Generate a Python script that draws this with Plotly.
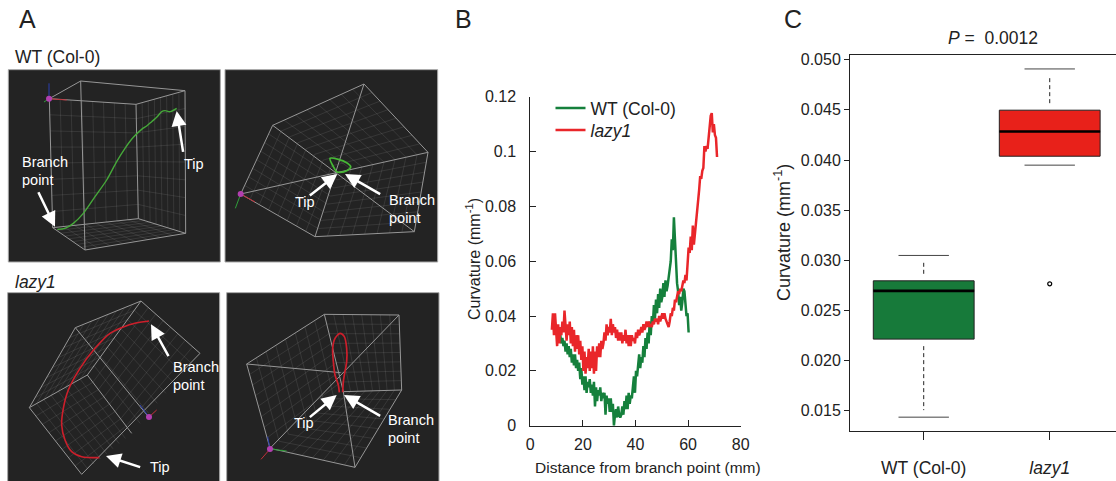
import plotly.graph_objects as go

FONT = "Liberation Sans, Arial, sans-serif"
INK = "#222222"
W, H = 1116, 481

# ---------- Panel B: curvature profiles ----------
wt_distance = [10.6,11.0,11.4,11.8,12.2,12.6,13.0,13.4,13.8,14.2,14.6,15.0,15.4,15.8,16.2,16.6,17.0,17.4,17.8,18.2,
 18.6,19.0,19.4,19.8,20.2,20.6,21.0,21.4,21.8,22.2,22.6,23.0,23.4,23.8,24.2,24.6,25.0,25.4,25.8,26.2,
 26.6,27.0,27.4,27.8,28.2,28.6,29.0,29.4,29.8,30.2,30.6,31.0,31.4,31.8,32.2,32.6,33.0,33.4,33.8,34.2,
 34.6,35.0,35.4,35.8,36.2,36.6,37.0,37.4,37.8,38.2,38.6,39.0,39.4,39.8,40.2,40.6,41.0,41.4,41.8,42.2,
 42.6,43.0,43.4,43.8,44.2,44.6,45.0,45.4,45.8,46.2,46.6,47.0,47.4,47.8,48.2,48.6,49.0,49.4,49.8,50.2,
 50.6,51.0,51.4,51.8,52.2,52.6,53.0,53.4,53.8,54.2,54.6,55.0,55.4,55.8,56.2,56.6,57.0,57.4,57.8,58.2,
 58.6,59.0,59.4,59.8,60.2]
wt_curvature = [.032,.031,.033,.030,.032,.029,.031,.027,.030,.026,.029,.025,.028,.023,.026,.022,.026,.021,.024,.020,
 .023,.017,.021,.015,.018,.013,.018,.012,.016,.014,.017,.012,.015,.011,.016,.007,.014,.009,.013,.011,
 .014,.009,.012,.010,.012,.004,.011,.008,.010,.005,.010,.005,.008,.000,.004,.006,.003,.007,.004,.003,
 .004,.007,.004,.009,.006,.011,.006,.012,.008,.011,.010,.014,.018,.012,.020,.018,.022,.026,.021,.025,
 .023,.029,.025,.032,.028,.034,.030,.038,.033,.040,.037,.044,.039,.046,.041,.048,.043,.050,.045,.047,
 .052,.047,.053,.049,.051,.054,.058,.060,.068,.064,.076,.066,.056,.052,.049,.044,.047,.042,.045,.050,
 .049,.043,.040,.041,.034]
lazy_distance = [8.2,8.6,9.0,9.4,9.8,10.2,10.6,11.0,11.4,11.8,12.2,12.6,13.0,13.4,13.8,14.2,14.6,15.0,15.4,15.8,
 16.2,16.6,17.0,17.4,17.8,18.2,18.6,19.0,19.4,19.8,20.2,20.6,21.0,21.4,21.8,22.2,22.6,23.0,23.4,23.8,
 24.2,24.6,25.0,25.4,25.8,26.2,26.6,27.0,27.4,27.8,28.2,28.6,29.0,29.4,29.8,30.2,30.6,31.0,31.4,31.8,
 32.2,32.6,33.0,33.4,33.8,34.2,34.6,35.0,35.4,35.8,36.2,36.6,37.0,37.4,37.8,38.2,38.6,39.0,39.4,39.8,
 40.2,40.6,41.0,41.4,41.8,42.2,42.6,43.0,43.4,43.8,44.2,44.6,45.0,45.4,45.8,46.2,46.6,47.0,47.4,47.8,
 48.2,48.6,49.0,49.4,49.8,50.2,50.6,51.0,51.4,51.8,52.2,52.6,53.0,53.4,53.8,54.2,54.6,55.0,55.4,55.8,
 56.2,56.6,57.0,57.4,57.8,58.2,58.6,59.0,59.4,59.8,60.2,60.6,61.0,61.4,61.8,62.2,62.6,63.0,63.4,63.8,
 64.2,64.6,65.0,65.4,65.8,66.2,66.6,67.0,67.4,67.8,68.2,68.6,69.0,69.4,69.8,70.2,70.6,71.0]
lazy_curvature = [.035,.041,.033,.041,.035,.029,.037,.030,.036,.033,.038,.034,.042,.035,.031,.037,.033,.038,.030,.036,
 .029,.035,.027,.033,.028,.033,.026,.031,.024,.029,.020,.027,.019,.025,.021,.028,.020,.027,.021,.029,
 .019,.027,.020,.029,.025,.030,.025,.031,.028,.030,.034,.031,.037,.033,.036,.034,.039,.033,.037,.034,
 .036,.032,.035,.031,.034,.031,.034,.030,.033,.031,.035,.030,.033,.029,.033,.029,.033,.031,.032,.030,
 .034,.032,.035,.033,.034,.036,.034,.037,.035,.036,.038,.036,.038,.036,.037,.036,.038,.037,.039,.038,
 .039,.037,.040,.038,.040,.041,.039,.041,.039,.038,.037,.036,.038,.041,.040,.043,.042,.046,.045,.047,
 .049,.048,.050,.049,.051,.053,.052,.055,.053,.058,.065,.063,.069,.064,.073,.066,.072,.074,.078,.081,
 .086,.091,.090,.093,.094,.102,.100,.102,.101,.105,.110,.113,.114,.107,.110,.106,.105,.098]
b_y_ticks = [0, 0.02, 0.04, 0.06, 0.08, 0.1, 0.12]
b_y_labels = ["0", "0.02", "0.04", "0.06", "0.08", "0.1", "0.12"]
b_x_ticks = [0, 20, 40, 60, 80]

# ---------- Panel C: box plot ----------
box_labels = ["WT (Col-0)", "<i>lazy1</i>"]
box_positions = [1, 2]
box_lower = [0.01437, 0.03949]
box_q1 = [0.02215, 0.04038]
box_median = [0.02696, 0.04284]
box_q3 = [0.02796, 0.04497]
box_upper = [0.03049, 0.04908]
box_colors = ["#177a3a", "#e8211a"]
outlier_position = [2]
outlier_value = [0.02766]
c_y_ticks = [0.015, 0.020, 0.025, 0.030, 0.035, 0.040, 0.045, 0.050]

# ---------- Panel A: traced 3-D views, in reference crop coordinates (3x) ----------
p1_rect = (25, 209, 661, 786)
p2_rect = (675, 209, 1313, 786)
p3_rect = (23, 83, 659, 660)
p4_rect = (680, 83, 1317, 660)

p1_wire = [[(148,296),(242,243),(555,272),(408,313),(148,296),(158,683),(255,750),(557,700),(555,272)],
           [(242,243),(255,750)], [(408,313),(415,656),(557,700)], [(158,683),(415,656)]]
p1_faces = [[(148,296),(408,313),(415,656),(158,683)], [(408,313),(555,272),(557,700),(415,656)],
            [(158,683),(415,656),(557,700),(255,750)]]
p1_x = [172,195,220,250,285,320,350,375,400,425,440,455,470,485,495,510,530]
p1_y = [688,685,670,640,590,540,485,445,412,388,378,365,352,335,332,335,325]

p2_wire = [[(818,376),(1092,252),(1284,457),(1243,695),(945,710),(722,582),(818,376)],
           [(818,376),(1243,695)], [(1092,252),(945,710)], [(722,582),(1284,457)]]
p2_faces = [[(818,376),(1092,252),(1284,457),(1020,515)], [(818,376),(722,582),(945,710),(1020,515)],
            [(1284,457),(1243,695),(945,710),(1020,515)]]
p2_x = [990,1015,1040,1052,1040,1020,1010,1000,990]
p2_y = [475,478,488,500,512,517,515,500,475]

p3_wire = [[(88,428),(226,188),(423,108),(600,265),(245,628),(88,428)],
           [(226,188),(445,455)], [(88,428),(262,330),(395,505)], [(423,108),(262,330)]]
p3_faces = [[(226,188),(423,108),(262,330),(88,428)], [(423,108),(600,265),(395,505),(262,330)],
            [(88,428),(262,330),(395,505),(245,628)]]
p3_x = [447,420,380,330,285,240,205,190,185,195,215,245,298]
p3_y = [168,172,182,205,250,310,375,430,480,525,560,575,578]

p4_wire = [[(740,297),(973,148),(1197,150),(1205,375),(1065,607),(810,550),(740,297)],
           [(740,297),(1022,323)], [(973,148),(1030,380),(1065,607)], [(1197,150),(810,550)], [(1030,380),(1205,375)]]
p4_faces = [[(973,148),(1197,150),(1205,375),(1030,380)], [(740,297),(973,148),(1030,380),(810,550)],
            [(810,550),(1030,380),(1205,375),(1065,607)]]
p4_x = [1018,1015,1005,1000,998,1005,1020,1033,1040,1040,1033,1030,1028]
p4_y = [382,360,330,290,250,220,205,215,250,290,330,350,382]

# triad at each view's origin: dot, then (end point, colour)
p1_triad = ((147,296), [((147,250),"#2b3fb0"), ((200,300),"#c0303a"), ((132,306),"#2f9e3a")])
p2_triad = ((722,582), [((706,625),"#2f9e3a"), ((765,606),"#c0303a")])
p3_triad = ((447,456), [((470,435),"#c0303a"), ((420,420),"#2b3fb0")])
p4_triad = ((810,552), [((860,558),"#2f9e3a"), ((783,583),"#c0303a"), ((803,515),"#2b3fb0")])

# (tail, head) of white arrows
p1_arrows = [((113,572),(165,680)), ((550,460),(530,333))]
p2_arrows = [((925,590),(1012,522)), ((1145,585),(1035,522))]
p3_arrows = [((508,278),(453,178)), ((425,608),(318,573))]
p4_arrows = [((925,460),(1010,390)), ((1145,455),(1032,390))]
# (left x, centre y, text)
p1_text = [(60,487,"Branch"), (60,541,"point"), (545,492,"Tip")]
p2_text = [(880,605,"Tip"), (1162,600,"Branch"), (1162,655,"point")]
p3_text = [(513,305,"Branch"), (513,360,"point"), (445,607,"Tip")]
p4_text = [(877,475,"Tip"), (1157,465,"Branch"), (1157,520,"point")]


def top(p):
    return (p[0] / 3, p[1] / 3)


def low(p):
    return (p[0] / 3, 265 + p[1] / 3)


def grid_lines(face, n, m):
    a, b, c, d = face
    xs, ys = [], []
    for i in range(1, n):
        t = i / n
        p = (a[0] + (b[0] - a[0]) * t, a[1] + (b[1] - a[1]) * t)
        q = (d[0] + (c[0] - d[0]) * t, d[1] + (c[1] - d[1]) * t)
        xs += [p[0], q[0], None]
        ys += [p[1], q[1], None]
    for j in range(1, m):
        t = j / m
        p = (a[0] + (d[0] - a[0]) * t, a[1] + (d[1] - a[1]) * t)
        q = (b[0] + (c[0] - b[0]) * t, b[1] + (c[1] - b[1]) * t)
        xs += [p[0], q[0], None]
        ys += [p[1], q[1], None]
    return xs, ys


fig = go.Figure()
shapes, annotations = [], []
A = dict(xaxis="x3", yaxis="y3", hoverinfo="skip", showlegend=False)


def add_view(rect, wire, faces, cx, cy, color, triad, arrows, texts, conv, lw):
    (x0, y0), (x1, y1) = conv(rect[:2]), conv(rect[2:])
    shapes.append(dict(type="rect", xref="x3", yref="y3", x0=x0, y0=y0, x1=x1, y1=y1, layer="below",
                       fillcolor="#232323", line=dict(color="#a8a8a8", width=1)))
    gx, gy = [], []
    for f in faces:
        px, py = grid_lines([conv(p) for p in f], 8, 8)
        gx += px
        gy += py
    fig.add_trace(go.Scatter(x=gx, y=gy, mode="lines", line=dict(color="rgba(255,255,255,0.13)", width=0.7), **A))
    wx, wy = [], []
    for seg in wire:
        for p in seg:
            q = conv(p)
            wx.append(q[0])
            wy.append(q[1])
        wx.append(None)
        wy.append(None)
    fig.add_trace(go.Scatter(x=wx, y=wy, mode="lines", line=dict(color="#969696", width=1), **A))
    pts = [conv(p) for p in zip(cx, cy)]
    fig.add_trace(go.Scatter(x=[p[0] for p in pts], y=[p[1] for p in pts], mode="lines",
                             line=dict(color=color, width=lw, shape="spline", smoothing=0.8), **A))
    o = conv(triad[0])
    for end, col in triad[1]:
        e = conv(end)
        fig.add_trace(go.Scatter(x=[o[0], e[0]], y=[o[1], e[1]], mode="lines", line=dict(color=col, width=1), **A))
    fig.add_trace(go.Scatter(x=[o[0]], y=[o[1]], mode="markers", marker=dict(color="#b23fb0", size=6), **A))
    for tail, head in arrows:
        t, h = conv(tail), conv(head)
        annotations.append(dict(x=h[0], y=h[1], ax=t[0], ay=t[1], xref="x3", yref="y3", axref="x3", ayref="y3",
                                text="", showarrow=True, arrowhead=2, arrowsize=1.2, arrowwidth=2.5,
                                arrowcolor="white"))
    for lx, ly, s in texts:
        q = conv((lx, ly))
        annotations.append(dict(x=q[0], y=q[1], xref="x3", yref="y3", text=s, showarrow=False, xanchor="left",
                                yanchor="middle", font=dict(family=FONT, size=14.5, color="white")))


add_view(p1_rect, p1_wire, p1_faces, p1_x, p1_y, "#46a83a", p1_triad, p1_arrows, p1_text, top, 1.4)
add_view(p2_rect, p2_wire, p2_faces, p2_x, p2_y, "#46b835", p2_triad, p2_arrows, p2_text, top, 1.8)
add_view(p3_rect, p3_wire, p3_faces, p3_x, p3_y, "#cc1f2b", p3_triad, p3_arrows, p3_text, low, 1.6)
add_view(p4_rect, p4_wire, p4_faces, p4_x, p4_y, "#cc1f2b", p4_triad, p4_arrows, p4_text, low, 1.7)

# Panel B traces
fig.add_trace(go.Scatter(x=wt_distance, y=wt_curvature, mode="lines", name="WT (Col-0)", legend="legend",
                         line=dict(color="#15803c", width=2.5), xaxis="x", yaxis="y"))
fig.add_trace(go.Scatter(x=lazy_distance, y=lazy_curvature, mode="lines", name="<i>lazy1</i>", legend="legend2",
                         line=dict(color="#e9262a", width=2.5), xaxis="x", yaxis="y"))

# Panel C traces
WHISKER_GAP = 0.0007
for i in range(2):
    x = box_positions[i]
    fig.add_trace(go.Box(x=[x], q1=[box_q1[i]], median=[box_median[i]], q3=[box_q3[i]],
                         lowerfence=[box_q1[i]], upperfence=[box_q3[i]], width=0.8, whiskerwidth=0,
                         fillcolor=box_colors[i], line=dict(color="#222222", width=1),
                         boxpoints=False, xaxis="x2", yaxis="y2", showlegend=False, hoverinfo="skip"))
    fig.add_trace(go.Scatter(x=[x - 0.4, x + 0.4], y=[box_median[i]] * 2, mode="lines",
                             line=dict(color="black", width=2.6), xaxis="x2", yaxis="y2", showlegend=False))
    for a, b, sign in ((box_q3[i], box_upper[i], 1), (box_q1[i], box_lower[i], -1)):
        if abs(b - a) > 2 * WHISKER_GAP:
            fig.add_trace(go.Scatter(x=[x, x], y=[a + sign * WHISKER_GAP, b - sign * WHISKER_GAP], mode="lines",
                                     line=dict(color="#222222", width=1, dash="4px,3px"),
                                     xaxis="x2", yaxis="y2", showlegend=False))
        fig.add_trace(go.Scatter(x=[x - 0.2, x + 0.2], y=[b, b], mode="lines", line=dict(color="#444444", width=1),
                                 xaxis="x2", yaxis="y2", showlegend=False))
fig.add_trace(go.Scatter(x=outlier_position, y=outlier_value, mode="markers", xaxis="x2", yaxis="y2", showlegend=False,
                         marker=dict(symbol="circle-open", size=4, color="black", line=dict(width=1.2))))

# Free text: (string, x, y, size, horizontal anchor, rotation)
for s, x, y, size, anchor, angle in [("A", 17, 19, 25, "left", 0), ("B", 453, 19, 25, "left", 0), ("C", 782, 19, 25, "left", 0),
                      ("WT (Col-0)", 13, 57, 17.5, "left", 0), ("<i>lazy1</i>", 13, 282, 17.5, "left", 0),
                      ("<i>P</i> =  0.0012", 946, 38, 17.5, "left", 0),
                      ("Distance from branch point (mm)", 648, 467, 15.5, "center", 0),
                      ("Curvature (mm<sup>-1</sup>)", 473, 259, 16, "center", -90),
                      ("Curvature (mm<sup>-1</sup>)", 782, 233, 18, "center", -90)]:
    annotations.append(dict(x=x, y=y, xref="x3", yref="y3", text=s, showarrow=False, xanchor=anchor, yanchor="middle",
                            textangle=angle, font=dict(family=FONT, size=size, color=INK)))

axis_common = dict(showgrid=False, zeroline=False, color=INK, linecolor=INK, linewidth=1, showline=True,
                   tickcolor=INK, tickwidth=1, tickfont=dict(family=FONT, size=16, color=INK), automargin=False)
legend_common = dict(x=550.5 / W, xanchor="left", yanchor="top", bgcolor="rgba(0,0,0,0)",
                     font=dict(family=FONT, size=17.5, color=INK), itemwidth=30)
fig.update_layout(
    width=W, height=H, margin=dict(l=0, r=0, t=0, b=0, autoexpand=False),
    paper_bgcolor="white", plot_bgcolor="rgba(0,0,0,0)",
    showlegend=True, shapes=shapes, annotations=annotations,
    legend=dict(y=1 - 90 / H, **legend_common),
    legend2=dict(y=1 - 112 / H, **legend_common),
    xaxis=dict(domain=[530.3 / W, 740.7 / W], range=[0, 80], tickvals=b_x_ticks, ticks="inside", ticklen=6,
               anchor="y", ticklabelstandoff=4, **axis_common),
    yaxis=dict(domain=[1 - 425.7 / H, 1 - 96.7 / H], range=[0, 0.12], tickvals=b_y_ticks, ticktext=b_y_labels,
               ticks="inside", ticklen=6, anchor="x", ticklabelstandoff=10, **axis_common),
    xaxis2=dict(domain=[850 / W, 1], range=[0.415, 2.526], tickvals=box_positions, ticktext=box_labels, ticks="outside",
                ticklen=8, anchor="y2", mirror=True, ticklabelstandoff=13,
                **{**axis_common, "tickfont": dict(family=FONT, size=17.5, color=INK)}),
    yaxis2=dict(domain=[1 - 431 / H, 1 - 54.5 / H], range=[0.01299, 0.05052], tickvals=c_y_ticks, tickformat=".3f",
                ticks="outside", ticklen=5, anchor="x2", **axis_common),
    xaxis3=dict(domain=[0, 1], range=[0, W], visible=False, anchor="y3", fixedrange=True),
    yaxis3=dict(domain=[0, 1], range=[H, 0], visible=False, anchor="x3", fixedrange=True),
    boxmode="overlay",
)

fig.write_html("out.html", config={"displayModeBar": False}, post_script="document.body.style.margin='0';")
